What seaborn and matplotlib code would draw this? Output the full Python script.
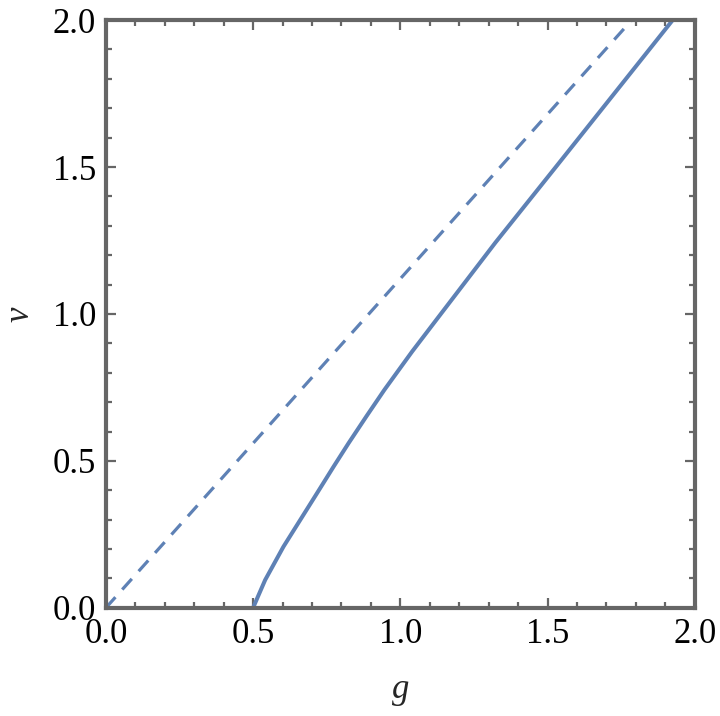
import numpy as np
import pandas as pd
import matplotlib
matplotlib.use("Agg")
import matplotlib.pyplot as plt
from matplotlib.ticker import MultipleLocator
import seaborn as sns

# values
g_solid = [0.5, 0.515, 0.541, 0.603, 0.66, 0.717, 0.773, 0.824, 0.885, 0.946, 1.04, 1.136,
           1.323, 1.524, 1.721, 1.925]
v_solid = [0.0, 0.035, 0.095, 0.208, 0.299, 0.39, 0.48, 0.56, 0.652, 0.742, 0.872, 0.998,
           1.243, 1.495, 1.743, 2.0]
g_dashed = [0.0, 1.786]
v_dashed = [0.0, 2.0]

line_color = "#5E81B5"
frame_color = "#666666"

sns.set_style("white")
plt.rcParams["font.family"] = ["Liberation Serif", "DejaVu Serif"]

fig = plt.figure(figsize=(7.2, 7.16), dpi=100)
ax = fig.add_axes([0.147, 0.151, 0.818, 0.821])

solid = pd.DataFrame({"g": g_solid, "v": v_solid})
dashed = pd.DataFrame({"g": g_dashed, "v": v_dashed})

sns.lineplot(data=solid, x="g", y="v", sort=False, ax=ax, color=line_color, lw=2.9)
sns.lineplot(data=dashed, x="g", y="v", sort=False, ax=ax, color=line_color, lw=2.3,
             linestyle=(0, (4.5, 3.2)))

ax.set_xlim(0, 2)
ax.set_ylim(0, 2)
ax.xaxis.set_major_locator(MultipleLocator(0.5))
ax.yaxis.set_major_locator(MultipleLocator(0.5))
ax.xaxis.set_minor_locator(MultipleLocator(0.1))
ax.yaxis.set_minor_locator(MultipleLocator(0.1))
ax.xaxis.set_major_formatter(lambda x, p: f"{x:.1f}")
ax.yaxis.set_major_formatter(lambda x, p: f"{x:.1f}")

for s in ax.spines.values():
    s.set_visible(True)
    s.set_color(frame_color)
    s.set_linewidth(3.0)

ax.tick_params(which="both", direction="in", top=True, right=True, bottom=True, left=True,
               color=frame_color, width=1.6)
ax.tick_params(which="major", length=7, labelsize=25, pad=7, labelcolor="black")
ax.tick_params(which="minor", length=4.5)

ax.set_xlabel("g", fontsize=25, style="italic", labelpad=16)
ax.set_ylabel("v", fontsize=25, style="italic", labelpad=12)

fig.savefig("out.png", dpi=100)
